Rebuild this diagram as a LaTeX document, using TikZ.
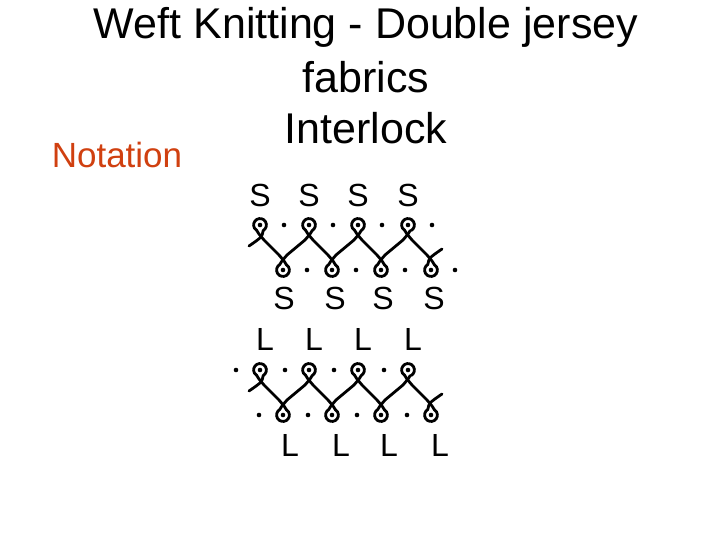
\documentclass[tikz,border=0pt]{standalone}
\usepackage{fontspec}
\setmainfont{Liberation Sans}
\begin{document}
\begin{tikzpicture}[x=1pt,y=-1pt,
  yarn/.style={line width=2.8pt,line cap=round},
  lbl/.style={font=\fontsize{32}{34}\selectfont,inner sep=0pt},
  ttl/.style={font=\fontsize{43}{45}\selectfont,inner sep=0pt}]
\useasboundingbox (0,0) rectangle (720,540);
\node[ttl] (t1) at (366,27) {Weft Knitting - Double jersey};
\node[ttl] (t2) at (366,77) {fabrics};
\node[ttl] (t3) at (366,128) {Interlock};
\node[font=\fontsize{35}{37}\selectfont,text={rgb,255:red,208;green,64;blue,16},inner sep=0pt] (nt) at (117,155) {Notation};
\foreach \ty/\dd in {225/24,370/-24}{
  \pgfmathsetmacro{\by}{\ty+45}
  \foreach \x in {260,309,358,408}{
    \pgfmathsetmacro{\bx}{\x+23}
    \draw[yarn] (\x+3.2,\ty+5.5) arc (60:-240:6.4);
    \draw[yarn] (\bx-3.2,\by-5.5) arc (240:-60:6.4);
    \fill (\x,\ty) circle (2.3);
    \fill (\bx,\by) circle (2.3);
    \fill (\x+\dd,\ty) circle (2.3);
    \fill (\bx+\dd,\by) circle (2.3);
    \draw[yarn] (\x-3.2,\ty+5.5) .. controls (\x-1,\ty+10) and (\x+2,\ty+12) .. (\x+4,\ty+15) -- (\bx-4,\by-15) .. controls (\bx-2,\by-12) and (\bx+1,\by-10) .. (\bx+3.2,\by-5.5);
  }
  \foreach \x in {260,309,358}{
    \pgfmathsetmacro{\bx}{\x+23}
    \pgfmathsetmacro{\tx}{\x+49}
    \draw[yarn] (\bx-3.2,\by-5.5) .. controls (\bx-1,\by-10) and (\bx+2,\by-12) .. (\bx+4,\by-15) -- (\tx-4,\ty+15) .. controls (\tx-2,\ty+12) and (\tx+1,\ty+10) .. (\tx+3.2,\ty+5.5);
  }
  \draw[yarn] (263.2,\ty+5.5) .. controls (262,\ty+12) .. (249,\ty+21);
  \draw[yarn] (427.8,\by-5.5) .. controls (429,\by-12) .. (442,\by-21);
}
\foreach \x/\n in {260/1,309/2,358/3,408/4}{
  \node[lbl] (sa\n) at (\x,195) {S};
  \node[lbl] (la\n) at (\x+5,339) {L};
}
\foreach \x/\n in {284/1,335/2,383/3,434/4}{
  \node[lbl] (sb\n) at (\x,298) {S};
  \node[lbl] (lb\n) at (\x+6,445) {L};
}
\end{tikzpicture}
\end{document}
